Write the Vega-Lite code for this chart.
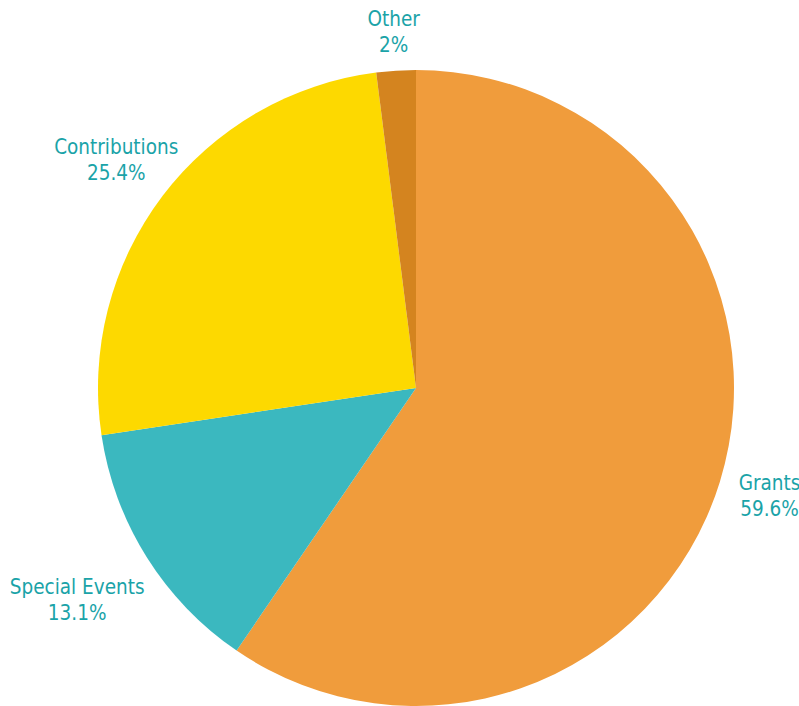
{
  "$schema": "https://vega.github.io/schema/vega-lite/v6.json",
  "autosize": "none",
  "width": 832,
  "height": 776,
  "padding": 0,
  "background": "#ffffff",
  "data": {
    "values": [
      {"category": "Grants", "value": 59.6, "pct": "59.6%", "rank": 1},
      {"category": "Special Events", "value": 13.1, "pct": "13.1%", "rank": 2},
      {"category": "Contributions", "value": 25.4, "pct": "25.4%", "rank": 3},
      {"category": "Other", "value": 2, "pct": "2%", "rank": 4}
    ]
  },
  "encoding": {
    "theta": {"field": "value", "type": "quantitative", "stack": true},
    "order": {"field": "rank", "type": "quantitative", "sort": "ascending"}
  },
  "layer": [
    {
      "mark": {"type": "arc", "outerRadius": 318},
      "encoding": {
        "color": {
          "field": "category",
          "type": "nominal",
          "scale": {
            "domain": ["Grants", "Special Events", "Contributions", "Other"],
            "range": ["#F09C3C", "#3BB8BF", "#FDD900", "#D4841F"]
          },
          "legend": null
        }
      }
    },
    {
      "mark": {"type": "text", "font": "DejaVu Sans Condensed, Roboto", "fontSize": 20.5, "color": "#1AA3A8", "dy": -13,
        "radius": {"expr": "datum.category === 'Special Events' ? 400 : datum.category === 'Other' ? 356 : datum.category === 'Contributions' ? 376 : 370"}},
      "encoding": {
        "text": {"field": "category"}
      }
    },
    {
      "mark": {"type": "text", "font": "DejaVu Sans Condensed, Roboto", "fontSize": 20.5, "color": "#1AA3A8", "dy": 13,
        "radius": {"expr": "datum.category === 'Special Events' ? 400 : datum.category === 'Other' ? 356 : datum.category === 'Contributions' ? 376 : 370"}},
      "encoding": {
        "text": {"field": "pct"}
      }
    }
  ]
}
